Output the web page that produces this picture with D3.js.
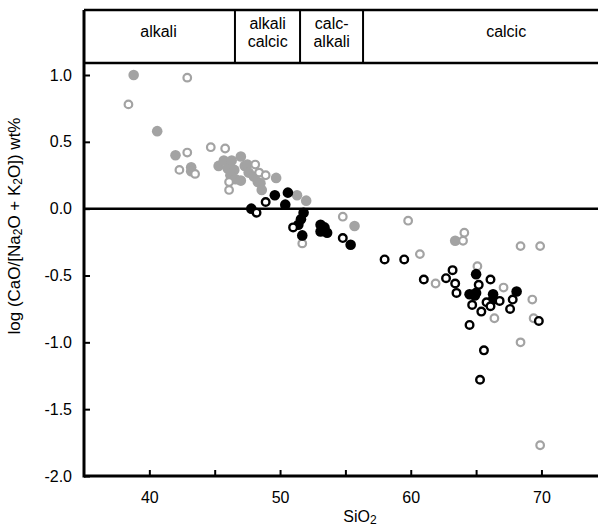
<!DOCTYPE html>
<html>
<head>
<meta charset="utf-8">
<script src="https://cdn.jsdelivr.net/npm/d3@7"></script>
<style>
  body { margin: 0; background: #fff; }
  svg { display: block; font-family: "Liberation Sans", Arial, sans-serif; }
</style>
</head>
<body>
<div id="chart"></div>
<script>
// [SiO2, log(CaO/(Na2O+K2O))]
var greyFilled = [[38.8,1.0],[40.6,0.58],[42.0,0.40],[43.2,0.31],[43.2,0.28],[45.3,0.32],[45.7,0.36],
  [46.0,0.30],[46.3,0.36],[46.5,0.29],[47.0,0.39],[47.3,0.32],[47.5,0.33],[46.2,0.25],[46.6,0.22],
  [47.0,0.21],[47.6,0.27],[48.0,0.24],[48.3,0.20],[48.5,0.19],[48.6,0.14],[49.7,0.23],[51.3,0.10],
  [52.0,0.06],[55.7,-0.13],[63.4,-0.24]];
var greyOpen = [[38.4,0.78],[42.9,0.98],[42.9,0.42],[44.7,0.46],[45.8,0.45],[42.3,0.29],[43.5,0.26],
  [46.1,0.20],[46.1,0.14],[48.1,0.33],[48.4,0.27],[48.9,0.25],[51.7,-0.26],[54.8,-0.06],[59.8,-0.09],
  [64.1,-0.18],[64.0,-0.24],[68.4,-0.28],[69.9,-0.28],[60.7,-0.34],[61.9,-0.56],[65.1,-0.43],
  [67.1,-0.59],[69.3,-0.68],[66.4,-0.82],[69.4,-0.82],[68.4,-1.0],[69.9,-1.77]];
var blackFilled = [[49.6,0.10],[50.6,0.12],[50.4,0.03],[47.8,0.0],[51.8,-0.03],[51.6,-0.08],[51.4,-0.12],
  [51.7,-0.20],[53.1,-0.12],[53.4,-0.14],[53.1,-0.17],[53.6,-0.18],[55.4,-0.27],[65.0,-0.49],
  [68.1,-0.62],[64.5,-0.64],[64.9,-0.65],[65.0,-0.63],[66.3,-0.64],[66.3,-0.68]];
var blackOpen = [[48.9,0.05],[48.2,-0.03],[51.0,-0.14],[54.8,-0.22],[58.0,-0.38],[59.5,-0.38],[61.0,-0.53],
  [62.7,-0.52],[63.2,-0.46],[63.4,-0.56],[63.5,-0.63],[65.2,-0.57],[66.1,-0.53],[64.7,-0.72],
  [65.4,-0.77],[65.8,-0.70],[66.1,-0.73],[66.8,-0.69],[67.8,-0.68],[67.6,-0.75],[69.8,-0.84],
  [64.5,-0.87],[65.6,-1.06],[65.3,-1.28]];

// Peacock fields along the top band (SiO2 boundaries)
var fieldBounds = [46.55, 51.53, 56.35];
var fieldNames = [["alkali"], ["alkali", "calcic"], ["calc-", "alkali"], ["calcic"]];
var fieldCentres = [40.7, 49.05, 53.95, 67.3];

var xTicks = [40, 45, 50, 55, 60, 65, 70];
var xLabels = [40, 50, 60, 70];
var yTicks = [1.0, 0.5, 0.0, -0.5, -1.0, -1.5, -2.0];

var W = 598, H = 528;
var x = d3.scaleLinear().domain([35, 75]).range([84, 84 + 40 * 13.07]);
var y = d3.scaleLinear().domain([-2, 1]).range([476, 75]);
var plotTop = 63, boxTop = 10;
var fs = 16, subFs = 12;

var svg = d3.select("#chart").append("svg").attr("width", W).attr("height", H);

// axes
var xAxis = d3.axisBottom(x).tickValues(xTicks).tickSizeInner(-6).tickSizeOuter(0)
  .tickFormat(function(d){ return xLabels.indexOf(d) >= 0 ? d : ""; });
var gx = svg.append("g").attr("transform", "translate(0," + y(-2) + ")").call(xAxis);
gx.select(".domain").remove();
gx.selectAll("line").attr("stroke", "#000").attr("stroke-width", 2);
gx.selectAll("text").attr("y", 16).attr("font-size", fs).attr("fill", "#000");

var yAxis = d3.axisLeft(y).tickValues(yTicks).tickSizeInner(-6).tickSizeOuter(0)
  .tickFormat(function(d){ return d3.format(".1f")(d).replace("\u2212", "-"); });
var gy = svg.append("g").attr("transform", "translate(" + x(35) + ",0)").call(yAxis);
gy.select(".domain").remove();
gy.selectAll("line").attr("stroke", "#000").attr("stroke-width", 2);
gy.selectAll("text").attr("x", -12).attr("font-size", fs).attr("fill", "#000");

// frame lines
svg.append("line").attr("x1", x(35)).attr("x2", W).attr("y1", y(-2)).attr("y2", y(-2))
  .attr("stroke", "#000").attr("stroke-width", 3);
svg.append("line").attr("x1", x(35)).attr("x2", x(35)).attr("y1", boxTop).attr("y2", y(-2) + 1.5)
  .attr("stroke", "#000").attr("stroke-width", 3);
svg.append("line").attr("x1", x(35)).attr("x2", W).attr("y1", y(0)).attr("y2", y(0))
  .attr("stroke", "#000").attr("stroke-width", 2.5);

// top band
svg.append("line").attr("x1", x(35)).attr("x2", W).attr("y1", boxTop).attr("y2", boxTop)
  .attr("stroke", "#000").attr("stroke-width", 2.5);
svg.append("line").attr("x1", x(35)).attr("x2", W).attr("y1", plotTop).attr("y2", plotTop)
  .attr("stroke", "#000").attr("stroke-width", 2.5);
svg.selectAll(".bound").data(fieldBounds).enter().append("line")
  .attr("x1", function(d){ return x(d); }).attr("x2", function(d){ return x(d); })
  .attr("y1", boxTop).attr("y2", plotTop)
  .attr("stroke", "#000").attr("stroke-width", 2);
fieldNames.forEach(function(lines, i){
  var t = svg.append("text").attr("x", x(fieldCentres[i])).attr("text-anchor", "middle")
    .attr("font-size", fs).attr("fill", "#000");
  var y0 = lines.length == 1 ? 37 : 29;
  lines.forEach(function(s, j){
    t.append("tspan").attr("x", x(fieldCentres[i])).attr("y", y0 + j * 18).text(s);
  });
});

// points
function dots(data, r, fill, stroke, sw){
  svg.append("g").selectAll("circle").data(data).enter().append("circle")
    .attr("cx", function(d){ return x(d[0]); })
    .attr("cy", function(d){ return y(d[1]); })
    .attr("r", r).attr("fill", fill).attr("stroke", stroke).attr("stroke-width", sw);
}
dots(greyFilled, 5.3, "#a3a3a3", "none", 0);
dots(greyOpen, 3.8, "#fff", "#a3a3a3", 2.2);
dots(blackFilled, 5.3, "#000", "none", 0);
dots(blackOpen, 3.8, "#fff", "#000", 2.4);

// axis titles
var xt = svg.append("text").attr("x", 360).attr("y", 522).attr("text-anchor", "middle")
  .attr("font-size", fs).attr("fill", "#000");
xt.append("tspan").text("SiO");
xt.append("tspan").attr("font-size", subFs).attr("dy", 2).text("2");

var yt = svg.append("text").attr("transform", "translate(20," + 226 + ") rotate(-90)")
  .attr("text-anchor", "middle").attr("font-size", 17).attr("fill", "#000");
yt.append("tspan").text("log (CaO/[Na");
yt.append("tspan").attr("font-size", subFs).attr("dy", 2).text("2");
yt.append("tspan").attr("dy", -2).text("O + K");
yt.append("tspan").attr("font-size", subFs).attr("dy", 2).text("2");
yt.append("tspan").attr("dy", -2).text("O]) wt%");
</script>
</body>
</html>
